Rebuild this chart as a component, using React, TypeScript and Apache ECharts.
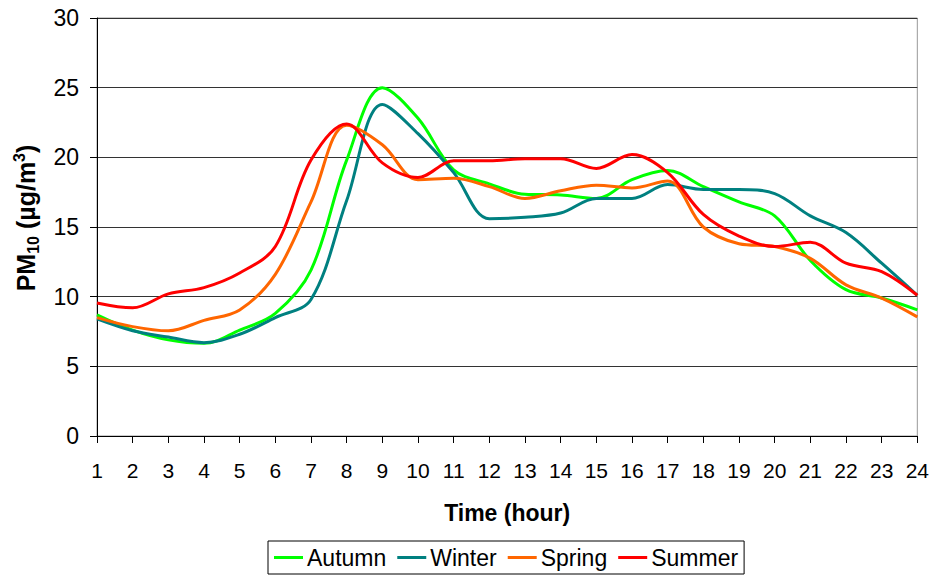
import React, { useEffect, useRef } from "react";
import * as echarts from "echarts";

const hours = ["1","2","3","4","5","6","7","8","9","10","11","12","13","14","15","16","17","18","19","20","21","22","23","24"];
const autumn = [8.7, 7.6, 6.9, 6.65, 7.6, 8.8, 11.9, 19.8, 25.0, 22.8, 19.1, 18.1, 17.35, 17.3, 17.05, 18.4, 19.05, 17.9, 16.8, 15.8, 12.6, 10.5, 9.9, 9.05];
const winter = [8.4, 7.55, 7.1, 6.7, 7.3, 8.5, 9.8, 16.9, 23.8, 21.7, 18.9, 15.6, 15.7, 16.0, 17.05, 17.05, 18.05, 17.7, 17.7, 17.4, 15.8, 14.6, 12.4, 10.1];
const spring = [8.5, 7.85, 7.55, 8.3, 9.05, 11.6, 16.8, 22.3, 20.9, 18.4, 18.5, 17.9, 17.05, 17.6, 18.0, 17.8, 18.3, 15.0, 13.8, 13.6, 12.75, 10.85, 9.9, 8.55];
const summer = [9.55, 9.2, 10.2, 10.65, 11.7, 13.6, 19.8, 22.4, 19.6, 18.55, 19.75, 19.75, 19.9, 19.9, 19.2, 20.2, 18.9, 15.9, 14.35, 13.6, 13.9, 12.4, 11.8, 10.1];
const yTicks = [0, 5, 10, 15, 20, 25, 30];

const FONT = "Liberation Sans, Arial, sans-serif";

export default function App() {
  const ref = useRef<HTMLDivElement>(null);
  useEffect(() => {
    if (!ref.current) return;
    const chart = echarts.init(ref.current, undefined, { renderer: "svg" });
    const mk = (name: string, data: number[], color: string) => ({
      name,
      type: "line",
      data,
      smooth: 0.35,
      symbol: "none",
      lineStyle: { color, width: 3 },
      itemStyle: { color },
    });
    const base = { fontWeight: "bold", color: "#000", fontFamily: FONT, lineHeight: 30 };
    chart.setOption({
      animation: false,
      backgroundColor: "#ffffff",
      textStyle: { fontFamily: FONT },
      grid: {
        left: 97,
        right: 13,
        top: 18,
        bottom: 139,
        show: true,
        borderColor: "#999999",
        borderWidth: 1,
      },
      legend: {
        top: 541,
        left: 268,
        orient: "horizontal",
        borderColor: "#000000",
        borderWidth: 1,
        padding: [5, 6, 5, 6],
        itemGap: 11,
        itemWidth: 29,
        itemHeight: 3,
        icon: "rect",
        textStyle: { fontSize: 23, color: "#000", fontFamily: FONT, padding: [0, 0, 0, -1] },
        data: ["Autumn", "Winter", "Spring", "Summer"],
      },
      xAxis: {
        type: "category",
        data: hours,
        boundaryGap: false,
        name: "Time (hour)",
        nameLocation: "middle",
        nameGap: 65,
        nameTextStyle: { fontSize: 23, fontWeight: "bold", color: "#000", fontFamily: FONT },
        axisLine: { lineStyle: { color: "#000", width: 1 } },
        axisTick: { show: true, length: 7, lineStyle: { color: "#000" }, alignWithLabel: true },
        axisLabel: { fontSize: 21, color: "#000", margin: 24, fontFamily: FONT },
        splitLine: { show: false },
      },
      yAxis: {
        type: "value",
        min: 0,
        max: 30,
        interval: 5,
        name: "{p|PM}{sub|10}{a| (µg/m}{sup|3}{a|)}",
        nameLocation: "middle",
        nameGap: 56,
        nameRotate: 90,
        nameTextStyle: {
          rich: {
            p: { ...base, fontSize: 25, verticalAlign: "middle", padding: [0, 0, 0, 18] },
            a: { ...base, fontSize: 25, verticalAlign: "middle" },
            sub: { ...base, fontSize: 16, verticalAlign: "bottom", padding: [9, 0, 0, 0] },
            sup: { ...base, fontSize: 16, verticalAlign: "top", padding: [0, 0, 9, 0] },
          },
        },
        axisLine: { show: true, lineStyle: { color: "#000", width: 1 } },
        axisTick: { show: true, length: 7, lineStyle: { color: "#000" } },
        axisLabel: {
          fontSize: 23,
          color: "#000",
          margin: 18,
          fontFamily: FONT,
          formatter: (v: number) => (yTicks.includes(v) ? String(v) : ""),
        },
        splitLine: { show: true, lineStyle: { color: "#333333", width: 1 } },
      },
      series: [
        mk("Autumn", autumn, "#00FF00"),
        mk("Winter", winter, "#008080"),
        mk("Spring", spring, "#FF6600"),
        mk("Summer", summer, "#FF0000"),
      ],
    });
    return () => chart.dispose();
  }, []);
  return <div ref={ref} style={{ width: 932, height: 575, position: "absolute", left: 0, top: 0 }} />;
}
